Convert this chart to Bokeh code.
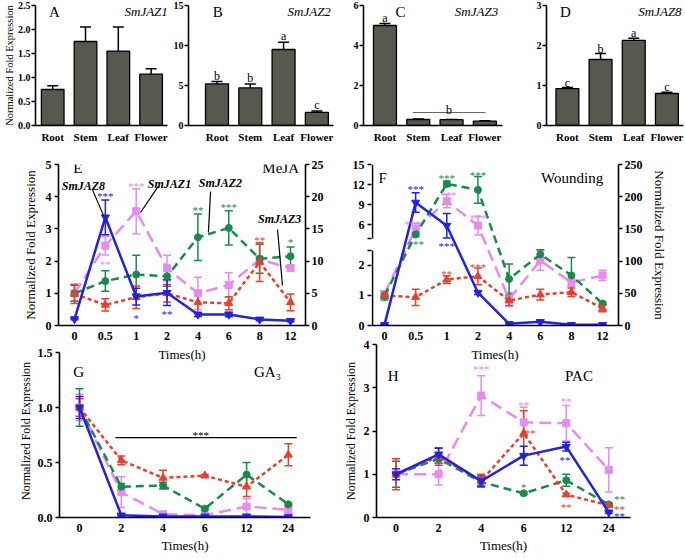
from bokeh.plotting import figure
from bokeh.models import (Range1d, LinearAxis, FixedTicker, PrintfTickFormatter, Whisker, TeeHead,
                          Label, ColumnDataSource, CustomJSTransform, CustomJSTickFormatter)
from bokeh.layouts import row, column
from bokeh.transform import transform
from bokeh.embed import file_html
from bokeh.resources import INLINE

SERIF = "Liberation Serif"
BLUE = "#2323dc"
RED = "#e8402e"
GREEN = "#1a8a4c"
PINK = "#e48cf0"
BAR = "#58584f"

# ---------------- data: tissue expression (A-D) ----------------
tissues = ["Root", "Stem", "Leaf", "Flower"]
jaz1_tissue = [0.75, 1.75, 1.55, 1.07]
jaz1_tissue_err = [0.08, 0.30, 0.50, 0.11]
jaz2_tissue = [5.2, 4.7, 9.5, 1.65]
jaz2_tissue_err = [0.3, 0.5, 0.9, 0.15]
jaz3_tissue = [5.0, 0.30, 0.29, 0.22]
jaz3_tissue_err = [0.1, 0.02, 0.01, 0.02]
jaz8_tissue = [0.92, 1.65, 2.13, 0.80]
jaz8_tissue_err = [0.03, 0.15, 0.05, 0.03]
jaz2_letters = ["b", "b", "a", "c"]
jaz8_letters = ["c", "b", "a", "c"]

# ---------------- data: MeJA (E) ----------------
meja_times = ["0", "0.5", "1", "2", "4", "6", "8", "12"]
jaz1_meja = [1.0, 2.48, 3.55, 1.78, 1.0, 1.26, 2.05, 1.78]
jaz1_meja_err = [0.25, 0.29, 0.70, 0.40, 0.50, 0.38, 0.10, 0.08]
jaz2_meja = [1.0, 1.38, 1.58, 1.53, 2.74, 3.03, 2.07, 2.15]
jaz2_meja_err = [0.25, 0.32, 0.60, 0.31, 0.72, 0.53, 0.45, 0.29]
jaz3_meja = [0.98, 0.64, 0.88, 1.0, 0.72, 0.69, 1.97, 0.72]
jaz3_meja_err = [0.30, 0.19, 0.35, 0.27, 0.35, 0.20, 0.60, 0.26]
jaz8_meja = [1.0, 16.8, 4.5, 5.1, 1.7, 1.7, 0.95, 0.72]      # right axis
jaz8_meja_err = [0.1, 2.7, 1.3, 2.0, 0.3, 0.35, 0.2, 0.15]

# ---------------- data: Wounding (F) ----------------
wound_times = ["0", "0.5", "1", "2", "4", "6", "8", "12"]
jaz1_wound = [1.05, 5.4, 9.5, 5.85, 0.87, 2.17, 1.43, 1.67]
jaz1_wound_err = [0.10, 0.8, 1.0, 1.4, 0.23, 0.33, 0.12, 0.17]
jaz2_wound = [1.0, 4.5, 12.1, 11.2, 1.55, 2.37, 1.67, 0.73]
jaz2_wound_err = [0.15, 0.3, 0.4, 2.0, 0.5, 0.15, 0.6, 0.05]
jaz3_wound = [1.0, 0.94, 1.53, 1.64, 0.83, 1.03, 1.11, 0.57]
jaz3_wound_err = [0.10, 0.27, 0.13, 0.28, 0.16, 0.18, 0.14, 0.11]
jaz8_wound = [1.0, 191, 155, 51, 2.6, 5.7, 1.0, 1.0]          # right axis
jaz8_wound_err = [0, 15, 19, 3, 0.5, 1.0, 0, 0]
wound_left_ticks_low = [0, 1, 2]
wound_left_ticks_high = [6, 9, 12, 15]
wound_right_ticks = [0, 50, 100, 150, 200, 250]

# ---------------- data: GA3 (G) ----------------
ga_times = ["0", "2", "4", "6", "12", "24"]
jaz1_ga = [1.0, 0.23, 0.03, 0.02, 0.10, 0.07]
jaz1_ga_err = [0.12, 0.14, 0.01, 0.01, 0.07, 0.03]
jaz2_ga = [1.0, 0.28, 0.29, 0.08, 0.39, 0.12]
jaz2_ga_err = [0.17, 0.03, 0.03, 0.01, 0.11, 0.01]
jaz3_ga = [1.0, 0.52, 0.36, 0.38, 0.28, 0.57]
jaz3_ga_err = [0.08, 0.04, 0.07, 0.01, 0.09, 0.10]
jaz8_ga = [1.0, 0.02, 0.01, 0.01, 0.01, 0.005]
jaz8_ga_err = [0.10, 0.005, 0, 0, 0, 0]

# ---------------- data: PAC (H) ----------------
pac_times = ["0", "2", "4", "6", "12", "24"]
jaz1_pac = [1.0, 1.0, 2.82, 2.2, 2.18, 1.1]
jaz1_pac_err = [0.0, 0.25, 0.46, 0.35, 0.41, 0.51]
jaz2_pac = [1.0, 1.36, 0.82, 0.56, 0.86, 0.30]
jaz2_pac_err = [0.30, 0.10, 0.10, 0.03, 0.14, 0.03]
jaz3_pac = [1.0, 1.41, 0.85, 1.95, 0.53, 0.28]
jaz3_pac_err = [0.36, 0.20, 0.15, 0.52, 0.03, 0.03]
jaz8_pac = [1.0, 1.46, 0.84, 1.43, 1.64, 0.12]
jaz8_pac_err = [0.13, 0.14, 0.12, 0.22, 0.10, 0.02]


def base_fig(w, h, mb, xr, yr):
    p = figure(width=w, height=h, x_range=xr, y_range=yr, output_backend="svg",
               toolbar_location=None, min_border_left=mb[0], min_border_right=mb[1],
               min_border_top=mb[2], min_border_bottom=mb[3])
    p.outline_line_color = None
    p.background_fill_alpha = 0
    p.border_fill_alpha = 0
    p.xgrid.visible = False
    p.ygrid.visible = False
    return p


def style_axis(ax, size="12px", tick_out=4, label_size="12px", standoff=2, label_standoff=4):
    ax.axis_line_color = "black"
    ax.axis_line_width = 1.6
    ax.major_tick_line_color = "black" if tick_out else None
    ax.major_tick_line_width = 1.6
    ax.major_tick_in = 0
    ax.major_tick_out = tick_out
    ax.minor_tick_line_color = None
    ax.major_label_text_font = SERIF
    ax.major_label_text_font_style = "bold"
    ax.major_label_text_font_size = size
    ax.major_label_text_color = "black"
    ax.major_label_standoff = standoff
    ax.axis_label_text_font = SERIF
    ax.axis_label_text_font_style = "normal"
    ax.axis_label_text_font_size = label_size
    ax.axis_label_text_color = "black"
    ax.axis_label_standoff = label_standoff


def add_text(p, x, y, text, size="15px", style="normal", color="black", align="center",
             baseline="middle", y_offset=0, yr="default"):
    p.add_layout(Label(x=x, y=y, text=text, text_font=SERIF, text_font_size=size,
                       text_font_style=style, text_color=color, text_align=align,
                       text_baseline=baseline, y_offset=y_offset, y_range_name=yr))


def cat_axis(ax, labels, size="12px", standoff=6, label_standoff=4):
    style_axis(ax, size=size, tick_out=0, label_size="13px", standoff=standoff,
               label_standoff=label_standoff)
    ax.ticker = FixedTicker(ticks=list(range(len(labels))))
    ax.major_label_overrides = {i: s for i, s in enumerate(labels)}


def bar_panel(w, mb, xr, ymax, yticks, fmt, vals, errs, letter, gene, lpos, gpos, ylabel=None):
    p = base_fig(w, 148, mb, Range1d(*xr), Range1d(0, ymax))
    idx = list(range(len(tissues)))
    src = ColumnDataSource(dict(x=idx, top=vals,
                                upper=[v + e for v, e in zip(vals, errs)],
                                lower=[v - e for v, e in zip(vals, errs)]))
    p.vbar(x="x", top="top", width=0.69, source=src, fill_color=BAR, line_color="black",
           line_width=1.3)
    p.add_layout(Whisker(source=src, base="x", upper="upper", lower="lower", line_color="black",
                         line_width=1.5,
                         upper_head=TeeHead(size=11, line_color="black", line_width=1.5),
                         lower_head=TeeHead(size=11, line_color="black", line_width=1.5)))
    cat_axis(p.xaxis[0], tissues, size="11px", standoff=5)
    ya = p.yaxis[0]
    style_axis(ya, size="10px", tick_out=4, label_size="10.5px", standoff=1, label_standoff=0)
    ya.ticker = FixedTicker(ticks=yticks)
    ya.formatter = PrintfTickFormatter(format=fmt)
    if ylabel:
        ya.axis_label = ylabel
    add_text(p, lpos[0], lpos[1], letter, size="15px")
    add_text(p, gpos[0], gpos[1], gene, size="13px", style="italic")
    return p, src


YLAB = "Normalized Fold Expression"

fA, sA = bar_panel(168, (33, 1, 5, 23), (-0.525, 3.5), 2.5, [0, 0.5, 1, 1.5, 2, 2.5], "%.1f",
                   jaz1_tissue, jaz1_tissue_err, "A", "SmJAZ1", (0.05, 2.375), (2.85, 2.375), YLAB)
fB, sB = bar_panel(177, (20, 12, 5, 23), (-0.856, 3.5), 15, [0, 5, 10, 15], "%d",
                   jaz2_tissue, jaz2_tissue_err, "B", "SmJAZ2", (0.02, 14.25), (2.77, 14.25))
fC, sC = bar_panel(188, (18, 31, 5, 23), (-0.645, 3.53), 6, [0, 2, 4, 6], "%d",
                   jaz3_tissue, jaz3_tissue_err, "C", "SmJAZ3", (0.47, 5.7), (2.75, 5.7))
fD, sD = bar_panel(152, (12, 2, 5, 23), (-0.63, 3.5), 3, [0, 1, 2, 3], "%d",
                   jaz8_tissue, jaz8_tissue_err, "D", "SmJAZ8", (-0.06, 2.85), (2.79, 2.85))

for i, t in enumerate(jaz2_letters):
    add_text(fB, i, jaz2_tissue[i] + jaz2_tissue_err[i], t, size="12px", baseline="alphabetic",
             y_offset=6)
for i, t in enumerate(jaz8_letters):
    add_text(fD, i, jaz8_tissue[i] + jaz8_tissue_err[i], t, size="12px", baseline="alphabetic",
             y_offset=5)
add_text(fC, 0, jaz3_tissue[0] + jaz3_tissue_err[0], "a", size="12px", baseline="alphabetic",
         y_offset=6)
fC.segment(x0=[0.83], y0=[0.65], x1=[3.02], y1=[0.65], line_color="#666666", line_width=1.2)
add_text(fC, 1.92, 0.65, "b", size="12px", baseline="alphabetic", y_offset=3)


def series(p, y, err, color, dash, marker, size, yr="default", tf=None, width=2.5):
    x = list(range(len(y)))
    src = ColumnDataSource(dict(x=x, y=y, upper=[a + b for a, b in zip(y, err)],
                                lower=[a - b for a, b in zip(y, err)]))
    ys = transform("y", tf) if tf is not None else "y"
    us = transform("upper", tf) if tf is not None else "upper"
    ls = transform("lower", tf) if tf is not None else "lower"
    p.add_layout(Whisker(source=src, base="x", upper=us, lower=ls, line_color=color, line_width=1.5,
                         y_range_name=yr,
                         upper_head=TeeHead(size=8, line_color=color, line_width=1.5),
                         lower_head=TeeHead(size=8, line_color=color, line_width=1.5)))
    p.line(x="x", y=ys, source=src, line_color=color, line_width=width, line_dash=dash,
           y_range_name=yr)
    p.scatter(x="x", y=ys, source=src, marker=marker, size=size, fill_color=color,
              line_color=color, y_range_name=yr)
    return src


def stars(p, items, yr="default"):
    for x, y, t, c in items:
        add_text(p, x, y, t, size="11px", color=c, y_offset=-2, yr=yr)


# ---------------- E: MeJA ----------------
fE = base_fig(340, 217, (58, 35, 16, 40), Range1d(-0.518, 7.486), Range1d(0, 5))
fE.extra_y_ranges = {"right": Range1d(0, 25)}
fE.add_layout(LinearAxis(y_range_name="right"), "right")
cat_axis(fE.xaxis[0], meja_times, size="12px", standoff=6, label_standoff=4)
fE.xaxis[0].axis_label = "Times(h)"
style_axis(fE.left[0], size="12px", label_size="13px", standoff=3, label_standoff=5)
fE.left[0].ticker = FixedTicker(ticks=[0, 1, 2, 3, 4, 5])
fE.left[0].axis_label = YLAB
style_axis(fE.right[0], size="12px", standoff=2)
fE.right[0].ticker = FixedTicker(ticks=[0, 5, 10, 15, 20, 25])

series(fE, jaz1_meja, jaz1_meja_err, PINK, "12 6", "square", 7)
series(fE, jaz2_meja, jaz2_meja_err, GREEN, "8 5", "circle", 7)
series(fE, jaz3_meja, jaz3_meja_err, RED, "4 3", "triangle", 8)
series(fE, jaz8_meja, jaz8_meja_err, BLUE, "solid", "inverted_triangle", 8, yr="right")

add_text(fE, 0.11, 4.89, "E")
add_text(fE, 6.68, 4.89, "MeJA")
callouts_E = [("SmJAZ8", 0.29, 4.32, 0.58, 4.22, 0.94, 3.42),
              ("SmJAZ1", 3.08, 4.40, 2.72, 4.33, 2.14, 3.51),
              ("SmJAZ2", 4.73, 4.41, 4.41, 4.16, 4.34, 2.89),
              ("SmJAZ3", 6.65, 3.32, 6.58, 2.98, 6.74, 1.24)]
for name, tx, ty, x0, y0, x1, y1 in callouts_E:
    add_text(fE, tx, ty, name, size="12px", style="bold italic")
    fE.segment(x0=[x0], y0=[y0], x1=[x1], y1=[y1], line_color="black", line_width=1.2)
stars(fE, [(1, 4.07, "***", BLUE), (2, 0.31, "*", BLUE), (3, 0.41, "**", BLUE),
           (2, 4.38, "***", PINK), (1, 1.97, "**", PINK), (4, 3.64, "**", GREEN),
           (5, 3.75, "***", GREEN), (6, 2.73, "**", RED), (7, 2.64, "*", GREEN)])

# ---------------- F: Wounding (broken left axis) ----------------
BRK_LO, BRK_HI, D_LO, D_HI, R_MAX, L_MAX = 2.5, 3.9, 116.5, 135.0, 250.0, 15.0
K_LO = D_LO / BRK_LO
K_HI = (R_MAX - D_HI) / (L_MAX - BRK_HI)


def f_disp(v):
    return v * K_LO if v <= 3.2 else D_HI + (v - BRK_HI) * K_HI


FMAP = CustomJSTransform(args=dict(k_lo=K_LO, k_hi=K_HI, d_hi=D_HI, hi=BRK_HI), v_func="""
const out = new Float64Array(xs.length);
for (let i = 0; i < xs.length; i++) {
  const v = xs[i];
  out[i] = v <= 3.2 ? v * k_lo : d_hi + (v - hi) * k_hi;
}
return out;
""")

F_FMT = CustomJSTickFormatter(
    args=dict(k_lo=K_LO, k_hi=K_HI, d_hi=D_HI, hi=BRK_HI, d_lo=D_LO), code="""
const v = tick <= (d_lo + d_hi) / 2 ? tick / k_lo : hi + (tick - d_hi) / k_hi;
if (Math.abs(v - Math.round(v)) > 0.05) return "";
return Math.round(v).toString();
""")

F_XSTART, F_XEND = -0.417, 7.51
fF = base_fig(345, 217, (31, 67, 16, 40), Range1d(F_XSTART, F_XEND), Range1d(0, R_MAX))
fF.add_layout(LinearAxis(), "right")
cat_axis(fF.xaxis[0], wound_times, size="12px", standoff=6, label_standoff=4)
fF.xaxis[0].axis_label = "Times(h)"
main_left = fF.left[0]
style_axis(main_left, size="12px", standoff=3)
main_left.ticker = FixedTicker(ticks=[f_disp(v) for v in wound_left_ticks_low] + [D_LO, D_HI] +
                               [f_disp(v) for v in wound_left_ticks_high])
main_left.formatter = F_FMT
main_left.axis_line_color = None
# two line-only axis segments drawn at the frame's left edge (the broken axis)
px_unit = (F_XEND - F_XSTART) / 247.0
for lo_b, hi_b in [(0, D_LO), (D_HI, R_MAX)]:
    seg = LinearAxis(fixed_location=F_XSTART + 0.8 * px_unit)
    seg.bounds = (lo_b, hi_b)
    seg.axis_line_color = "black"
    seg.axis_line_width = 1.6
    seg.major_tick_line_color = None
    seg.minor_tick_line_color = None
    seg.major_label_text_font_size = "0px"
    seg.major_label_text_alpha = 0
    fF.add_layout(seg, "left")
style_axis(fF.right[0], size="12px", label_size="13px", standoff=2, label_standoff=6)
fF.right[0].ticker = FixedTicker(ticks=wound_right_ticks)
fF.right[0].axis_label = YLAB

series(fF, jaz1_wound, jaz1_wound_err, PINK, "12 6", "square", 7, tf=FMAP)
series(fF, jaz2_wound, jaz2_wound_err, GREEN, "8 5", "circle", 7, tf=FMAP)
series(fF, jaz3_wound, jaz3_wound_err, RED, "4 3", "triangle", 8, tf=FMAP)
series(fF, jaz8_wound, jaz8_wound_err, BLUE, "solid", "inverted_triangle", 8)

add_text(fF, -0.06, 229.8, "F")
add_text(fF, 6.02, 229.8, "Wounding")
stars(fF, [(1, 215.8, "***", BLUE), (2, 126.9, "***", BLUE), (2, 232.9, "***", GREEN),
           (3, 236.5, "***", GREEN), (1, 129.3, "***", GREEN), (0.9, 160.4, "***", PINK),
           (2.05, 205.0, "***", PINK), (3, 170.8, "***", PINK), (2, 82.8, "**", RED),
           (3, 94.7, "***", RED)])

# ---------------- G: GA3 ----------------
fG = base_fig(340, 223, (59, 30, 8, 42), Range1d(-0.48, 5.53), Range1d(0, 1.573))
cat_axis(fG.xaxis[0], ga_times, size="12px", standoff=6, label_standoff=3)
fG.xaxis[0].axis_label = "Times(h)"
style_axis(fG.yaxis[0], size="12px", label_size="12px", standoff=3, label_standoff=2)
fG.yaxis[0].ticker = FixedTicker(ticks=[0, 0.5, 1.0, 1.5])
fG.yaxis[0].formatter = PrintfTickFormatter(format="%.1f")
fG.yaxis[0].bounds = (0, 1.5)
fG.yaxis[0].axis_label = YLAB

series(fG, jaz1_ga, jaz1_ga_err, PINK, "12 6", "square", 7)
series(fG, jaz2_ga, jaz2_ga_err, GREEN, "8 5", "circle", 7)
series(fG, jaz3_ga, jaz3_ga_err, RED, "4 3", "triangle", 8)
series(fG, jaz8_ga, jaz8_ga_err, BLUE, "solid", "inverted_triangle", 8)
add_text(fG, -0.02, 1.32, "G")
add_text(fG, 4.5, 1.32, "GA₃")
fG.segment(x0=[0.86], y0=[0.727], x1=[5.2], y1=[0.727], line_color="black", line_width=1.3)
stars(fG, [(2.9, 0.77, "***", "black")])

# ---------------- H: PAC ----------------
fH = base_fig(345, 223, (31, 55, 8, 42), Range1d(-0.46, 5.51), Range1d(0, 4))
cat_axis(fH.xaxis[0], pac_times, size="12px", standoff=6, label_standoff=3)
fH.xaxis[0].axis_label = "Times(h)"
style_axis(fH.yaxis[0], size="12px", label_size="12px", standoff=3, label_standoff=3)
fH.yaxis[0].ticker = FixedTicker(ticks=[0, 1, 2, 3, 4])
fH.yaxis[0].axis_label = YLAB

series(fH, jaz1_pac, jaz1_pac_err, PINK, "12 6", "square", 7)
series(fH, jaz2_pac, jaz2_pac_err, GREEN, "8 5", "circle", 7)
series(fH, jaz3_pac, jaz3_pac_err, RED, "4 3", "triangle", 8)
series(fH, jaz8_pac, jaz8_pac_err, BLUE, "solid", "inverted_triangle", 8)
add_text(fH, -0.07, 3.28, "H")
add_text(fH, 4.3, 3.28, "PAC")
stars(fH, [(2, 3.47, "***", PINK), (3, 2.64, "**", PINK), (4, 2.75, "**", PINK),
           (3.15, 2.0, "**", RED), (4, 0.30, "**", RED), (5.25, 0.25, "**", RED),
           (3, 0.74, "*", GREEN), (5.25, 0.47, "**", GREEN), (3.97, 1.37, "**", BLUE),
           (5.25, 0.07, "**", BLUE)])

top = row(fA, fB, fC, fD)
mid = row(fE, fF)
bot = row(fG, fH, margin=(-29, 0, 0, 0))
layout = column(top, mid, bot)

open("out.html", "w").write(file_html(layout, INLINE))
